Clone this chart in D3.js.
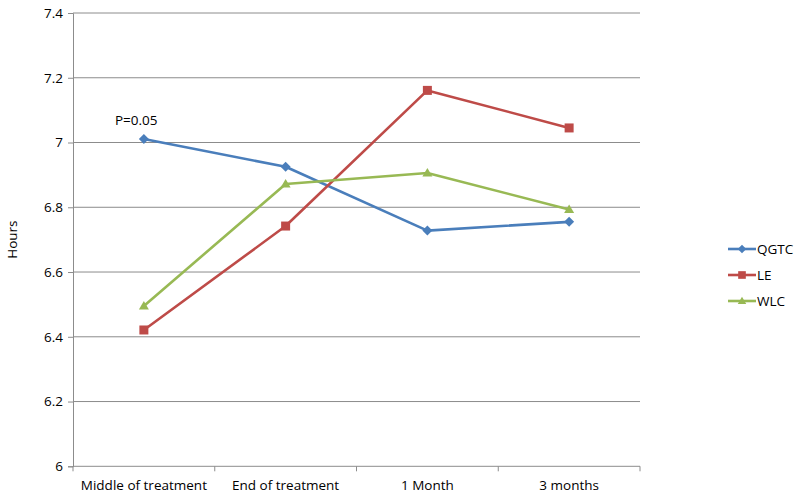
<!DOCTYPE html>
<html><head><meta charset="utf-8">
<script src="https://cdn.jsdelivr.net/npm/d3@7"></script>
<style>body{margin:0;background:#fff}svg{display:block}text{font-family:"Open Sans","Liberation Sans",sans-serif;fill:#000}</style>
</head><body><svg id="c" width="800" height="499"></svg>
<script>
const categories = ["Middle of treatment","End of treatment","1 Month","3 months"];
const seriesNames = ["QGTC","LE","WLC"];
const qgtc = [7.011, 6.925, 6.728, 6.755];
const le = [6.421, 6.742, 7.161, 7.045];
const wlc = [6.495, 6.872, 6.906, 6.793];
const yTicks = [6, 6.2, 6.4, 6.6, 6.8, 7, 7.2, 7.4];
const colors = ["#4A7EBB","#BE4B48","#98B954"];
const annotation = "P=0.05";

// marker shapes (custom paths, centred at 0,0)
const markerPaths = [
  "M0,-5L5,0L0,5L-5,0Z",          // diamond
  "M-4.5,-4.5H4.5V4.5H-4.5Z",     // square
  "M0,-5L5,3.5H-5Z"               // triangle
];

const svg = d3.select("#c");
const L = 73, R = 640, T = 13, B = 466.3;
const x = d3.scaleBand().domain(categories).range([L, R]);
const y = d3.scaleLinear().domain([6, 7.4]).range([B, T]);
const FS = "13.5px";

// gridlines
svg.append("g").selectAll("line").data(yTicks.slice(1)).join("line")
  .attr("x1", L).attr("x2", R).attr("y1", d => y(d)).attr("y2", d => y(d))
  .attr("stroke", "#8c8c8c").attr("stroke-width", 1);

// y axis
const yAxis = svg.append("g").attr("transform", `translate(${L},0)`)
  .call(d3.axisLeft(y).tickValues(yTicks).tickSize(5).tickPadding(5).tickFormat(d => String(+d.toFixed(1))));
yAxis.select(".domain").attr("stroke", "#8c8c8c");
yAxis.selectAll(".tick line").attr("stroke", "#8c8c8c");
yAxis.selectAll("text").attr("font-size", FS).attr("fill", "#000");

// x axis
const xAxis = svg.append("g").attr("transform", `translate(0,${B})`)
  .call(d3.axisBottom(x).tickSize(0).tickPadding(14));
xAxis.select(".domain").attr("stroke", "#8c8c8c").attr("d", `M${L},0H${R}`);
xAxis.selectAll("text").attr("font-size", FS).attr("fill", "#000");
svg.append("g").selectAll("line").data(d3.range(categories.length + 1)).join("line")
  .attr("x1", i => L + i * x.step()).attr("x2", i => L + i * x.step())
  .attr("y1", B).attr("y2", B + 5).attr("stroke", "#8c8c8c");

// y title
svg.append("text").attr("transform", `translate(17,${(T + B) / 2}) rotate(-90)`)
  .attr("text-anchor", "middle").attr("font-size", FS).text("Hours");

const allSeries = [qgtc, le, wlc];
const line = d3.line().x((d, i) => x(categories[i]) + x.bandwidth() / 2).y(d => y(d));
allSeries.forEach((s, k) => {
  svg.append("path").datum(s).attr("d", line).attr("fill", "none")
    .attr("stroke", colors[k]).attr("stroke-width", 2.6).attr("stroke-linejoin", "round");
});
allSeries.forEach((s, k) => {
  svg.append("g").selectAll("path").data(s).join("path")
    .attr("transform", (d, i) => `translate(${x(categories[i]) + x.bandwidth() / 2},${y(d)})`)
    .attr("d", markerPaths[k])
    .attr("fill", colors[k]);
});

// annotation
svg.append("text").attr("x", x(categories[0]) + x.bandwidth() / 2 - 29).attr("y", y(qgtc[0]) - 14)
  .attr("font-size", FS).text(annotation);

// legend
seriesNames.forEach((n, k) => {
  const ly = 249 + k * 26;
  const g = svg.append("g");
  g.append("line").attr("x1", 728).attr("x2", 756).attr("y1", ly).attr("y2", ly)
    .attr("stroke", colors[k]).attr("stroke-width", 2.6);
  g.append("path").attr("transform", `translate(742,${ly}) scale(0.85)`)
    .attr("d", markerPaths[k]).attr("fill", colors[k]);
  g.append("text").attr("x", 757).attr("y", ly).attr("dy", "0.35em").attr("font-size", FS).text(n);
});
</script></body></html>
